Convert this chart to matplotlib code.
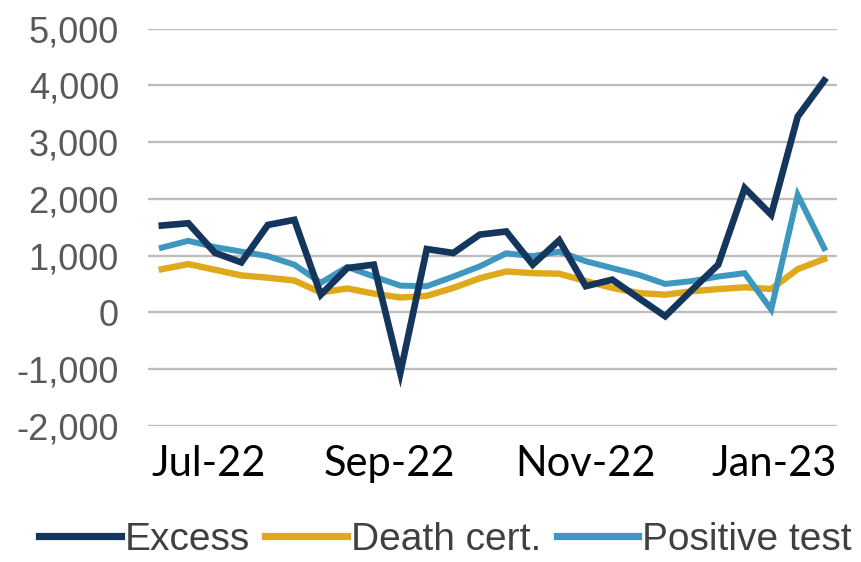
import matplotlib
matplotlib.use("Agg")
import matplotlib.pyplot as plt
from matplotlib.ticker import FuncFormatter

# weekly values
excess = [1530, 1570, 1050, 880, 1540, 1630, 310, 780, 840, -1070,
          1115, 1045, 1370, 1425, 840, 1270, 460, 575, 250, -70,
          390, 840, 2190, 1720, 3450, 4085]
death_cert = [760, 850, 750, 650, 610, 560, 350, 420, 330, 260,
              290, 430, 600, 720, 690, 680, 550, 430, 340, 310,
              370, 410, 440, 410, 760, 940]
positive_test = [1140, 1260, 1150, 1070, 990, 840, 520, 800, 630, 470,
                 460, 630, 810, 1040, 990, 1070, 900, 780, 660, 500,
                 550, 630, 690, 50, 2070, 1130]
month_pos = [1.78, 8.6, 16.0, 23.1]
month_labels = ["Jul-22", "Sep-22", "Nov-22", "Jan-23"]

x = list(range(len(excess)))

fig = plt.figure(figsize=(8.61, 5.62), dpi=100)
ax = fig.add_axes([0.172, 0.2425, 0.8, 0.7064])

ax.plot(x, death_cert, color="#dfa91b", lw=4.6, label="Death cert.", zorder=2,
        solid_joinstyle="miter")
ax.plot(x, positive_test, color="#3e97bf", lw=4.3, label="Positive test", zorder=2.5,
        solid_joinstyle="miter")
ax.plot(x, excess, color="#14365d", lw=4.8, label="Excess", zorder=3,
        solid_joinstyle="miter")

ax.set_xlim(-0.52, 25.48)
ax.set_ylim(-2000, 5000)
ax.set_yticks(range(-2000, 5001, 1000))
ax.yaxis.set_major_formatter(FuncFormatter(lambda v, p: f"{int(v):,}"))
ax.grid(axis="y", color="#bdbdbd", lw=1.7, zorder=0)
ax.set_axisbelow(True)
for s in ax.spines.values():
    s.set_visible(False)

ax.set_xticks(month_pos)
ax.set_xticklabels(month_labels, fontfamily="Lato", fontsize=30, color="black")
ax.tick_params(axis="x", length=0, pad=14)
ax.tick_params(axis="y", length=0, pad=21, labelsize=26, labelcolor="#595959")
for t in ax.get_yticklabels():
    t.set_fontfamily("Liberation Sans")

h, l = ax.get_legend_handles_labels()
order = [2, 0, 1]
leg = fig.legend([h[i] for i in order], [l[i] for i in order], loc="center",
                 bbox_to_anchor=(0.5174, 0.04), ncol=3, frameon=False,
                 prop={"family": "Liberation Sans", "size": 28},
                 labelcolor="#404040", handlelength=2.1, handletextpad=0.1,
                 columnspacing=0.4, borderaxespad=0, borderpad=0)
for line in leg.get_lines():
    line.set_linewidth(5.2)

fig.savefig("out.png", dpi=100)
